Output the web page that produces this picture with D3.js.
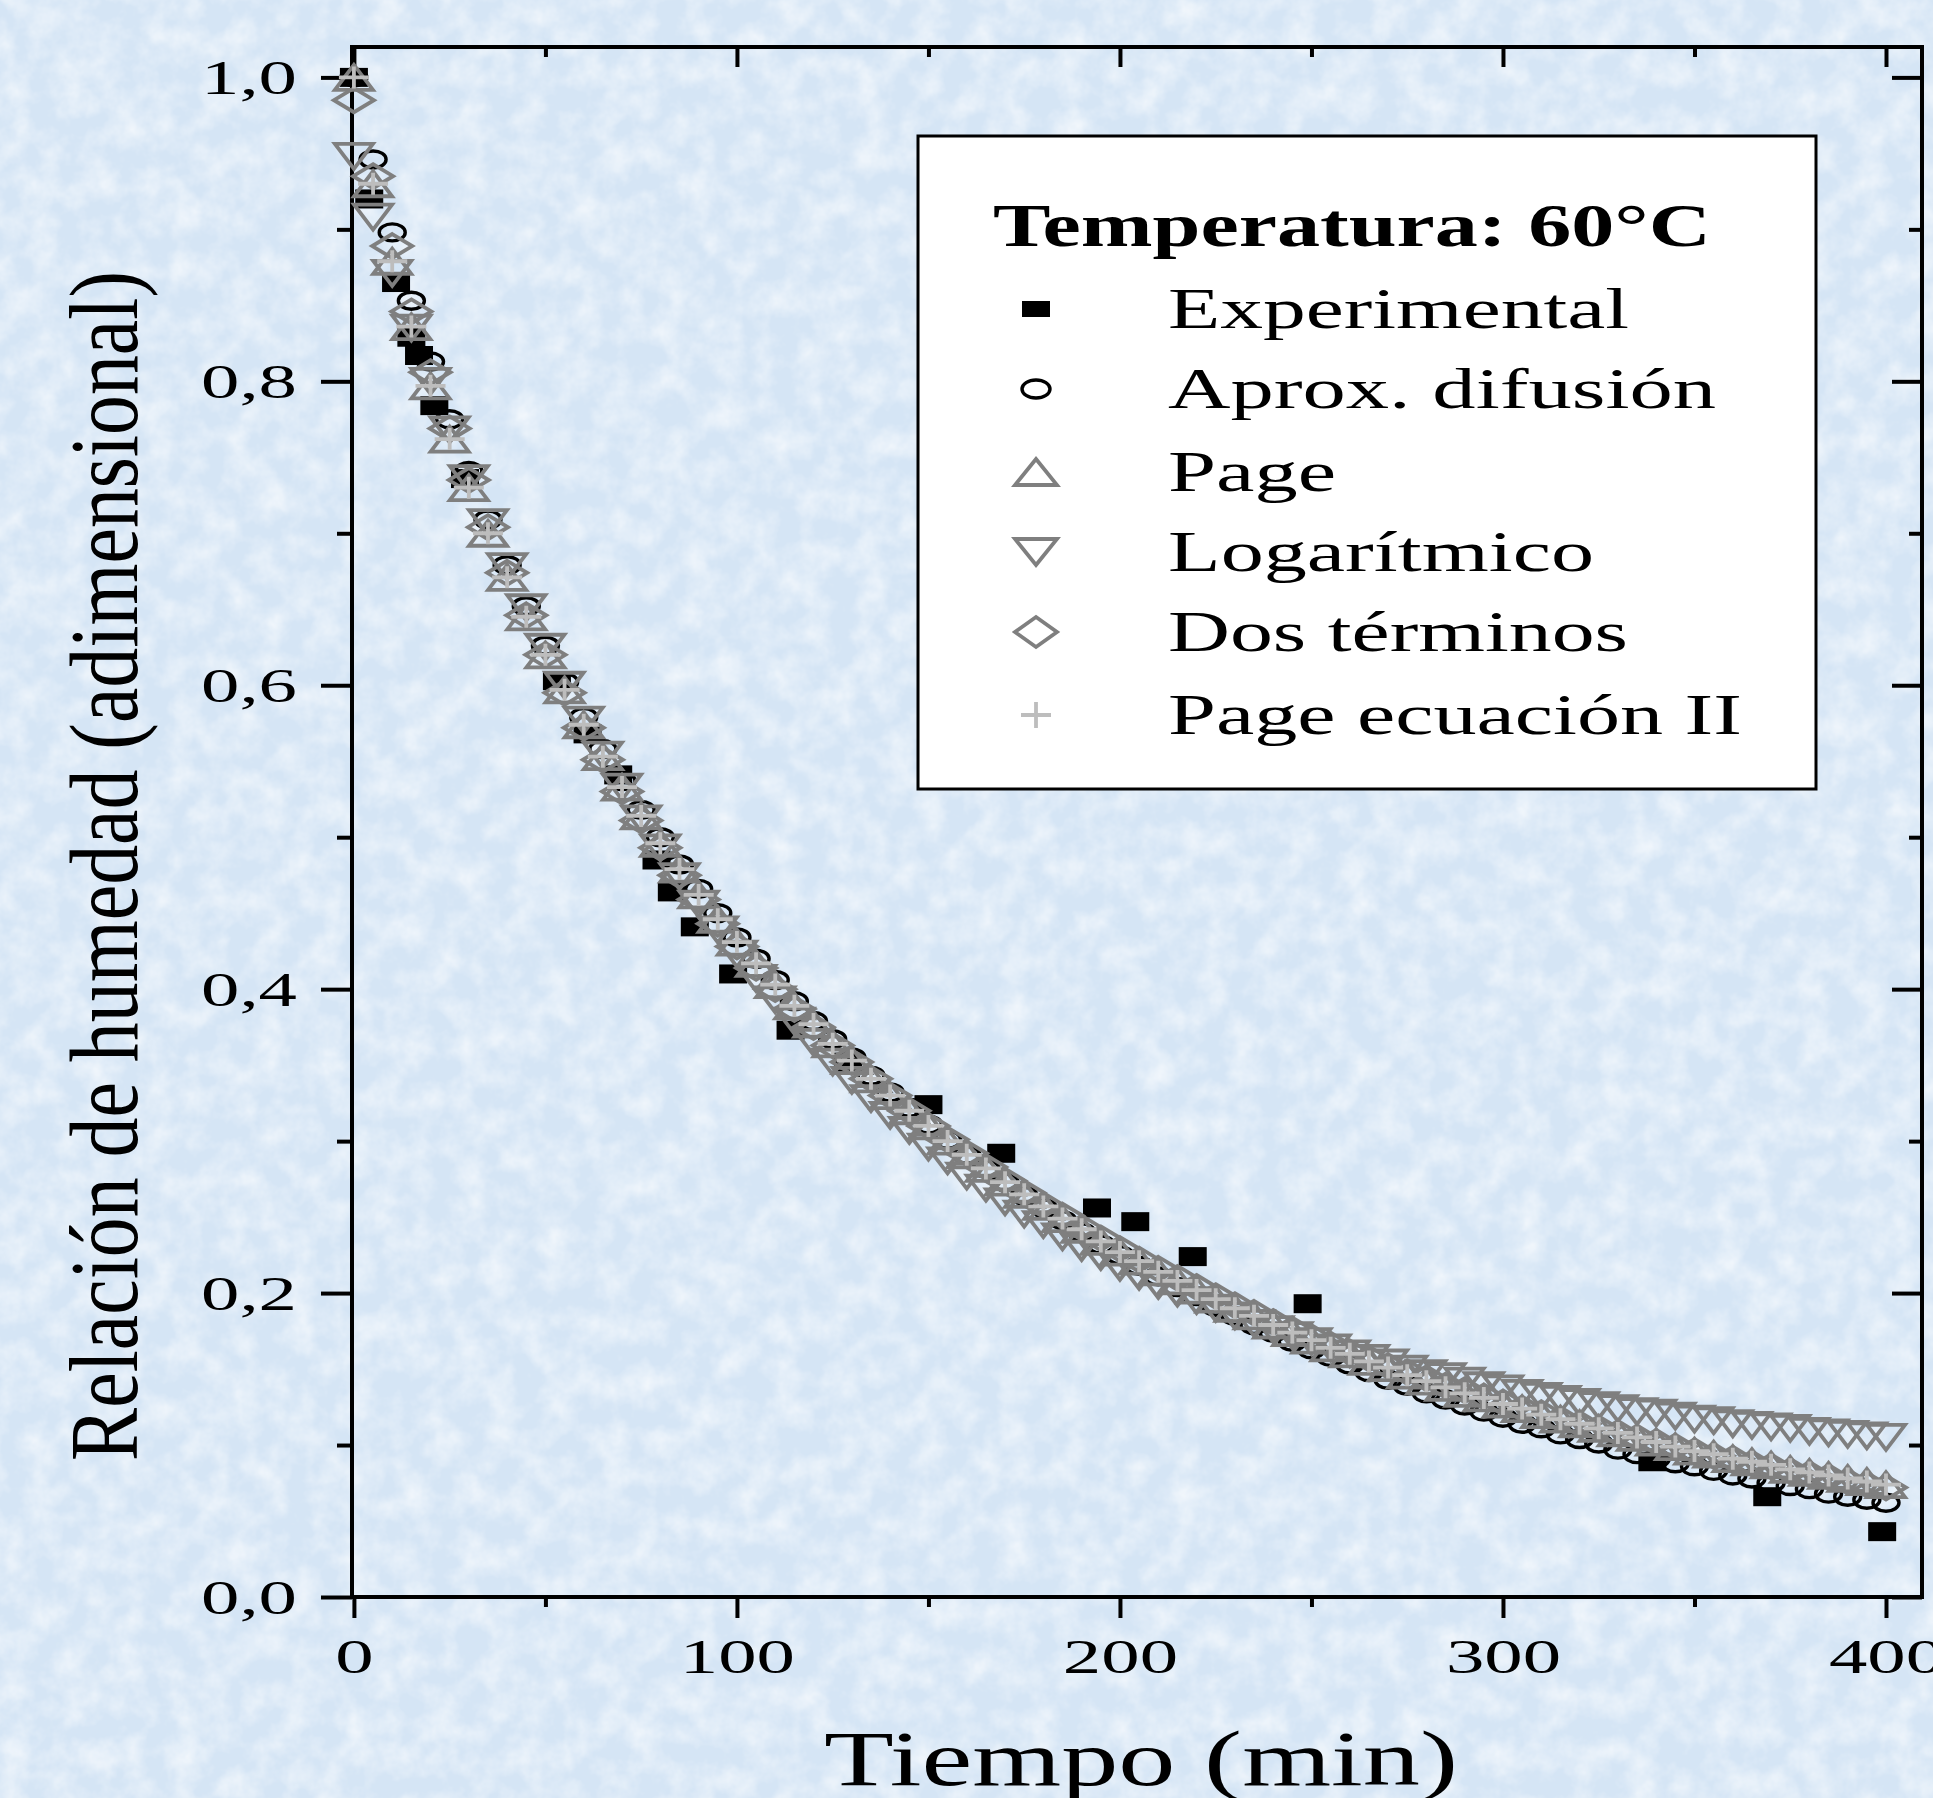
<!DOCTYPE html>
<html>
<head>
<meta charset="utf-8">
<script src="https://cdn.jsdelivr.net/npm/d3@7"></script>
<style>
  html, body { margin: 0; padding: 0; background: #d6e5f4; }
  svg { display: block; }
  text { font-family: "Liberation Serif", "Times New Roman", serif; fill: #000; }
</style>
</head>
<body>
<svg id="chart" width="1933" height="1798"></svg>
<script>
// ---- data ----
const seriesNames = ["Experimental", "Aprox. difusión", "Page", "Logarítmico", "Dos términos", "Page ecuación II"]
const legendTitle = "Temperatura: 60°C"
const xTitle = "Tiempo (min)"
const yTitle = "Relación de humedad (adimensional)"

const xMajorTicks = [0, 100, 200, 300, 400]
const xMinorTicks = [50, 150, 250, 350]
const yMajorTicks = [0, 0.2, 0.4, 0.6, 0.8, 1.0]
const yMinorTicks = [0.1, 0.3, 0.5, 0.7, 0.9]

// experimental points (min, MR)
const expTime  = [0, 4, 11, 15, 17, 21, 29, 53, 61, 69, 79, 83, 89, 99, 114, 129, 150, 169, 194, 204, 219, 249, 339, 369, 399]
const expValue = [1.0, 0.92, 0.865, 0.829, 0.817, 0.784, 0.736, 0.603, 0.568, 0.541, 0.485, 0.464, 0.441, 0.41, 0.373, 0.352, 0.324, 0.292, 0.256, 0.247, 0.224, 0.193, 0.089, 0.066, 0.043]

// model curves, one value every 5 min from 0 to 400
const modelTime = d3.range(0, 401, 5)

const aproxDifusion = [1.000,0.946,0.898,0.853,0.813,0.775,0.741,0.709,0.679,0.652,0.626,0.602,0.579,0.558,0.537,0.518,0.500,0.482,0.466,0.450,
  0.434,0.420,0.406,0.392,0.379,0.367,0.355,0.343,0.332,0.322,0.311,0.301,0.291,0.282,0.273,0.264,0.256,0.248,0.240,0.232,
  0.225,0.218,0.211,0.204,0.198,0.191,0.185,0.179,0.174,0.168,0.163,0.158,0.153,0.148,0.143,0.139,0.134,0.130,0.126,0.122,
  0.118,0.114,0.111,0.107,0.104,0.101,0.097,0.094,0.091,0.088,0.086,0.083,0.080,0.078,0.075,0.073,0.071,0.068,0.066,0.064,0.062]

const page = [1.000,0.930,0.879,0.836,0.797,0.762,0.730,0.700,0.671,0.645,0.620,0.597,0.574,0.553,0.533,0.514,0.496,0.479,0.462,0.446,
  0.431,0.417,0.403,0.389,0.377,0.364,0.353,0.341,0.330,0.320,0.310,0.300,0.291,0.282,0.273,0.265,0.257,0.249,0.242,0.234,
  0.227,0.221,0.214,0.208,0.202,0.196,0.190,0.185,0.179,0.174,0.169,0.164,0.160,0.155,0.151,0.146,0.142,0.138,0.134,0.131,
  0.127,0.124,0.120,0.117,0.114,0.111,0.108,0.105,0.102,0.099,0.096,0.094,0.091,0.089,0.087,0.084,0.082,0.080,0.078,0.076,0.074]

const logaritmico = [0.948,0.908,0.871,0.835,0.800,0.768,0.736,0.707,0.678,0.651,0.625,0.600,0.577,0.554,0.533,0.512,0.493,0.474,0.456,0.439,
  0.423,0.407,0.393,0.379,0.365,0.352,0.340,0.328,0.317,0.307,0.296,0.287,0.277,0.269,0.260,0.252,0.245,0.237,0.230,0.224,
  0.217,0.211,0.205,0.200,0.195,0.190,0.185,0.180,0.176,0.172,0.168,0.164,0.160,0.157,0.154,0.150,0.147,0.145,0.142,0.139,
  0.137,0.134,0.132,0.130,0.128,0.126,0.124,0.122,0.121,0.119,0.117,0.116,0.114,0.113,0.112,0.111,0.109,0.108,0.107,0.106,0.105]

const dosTerminos = [0.985,0.935,0.889,0.846,0.806,0.769,0.735,0.704,0.674,0.646,0.620,0.595,0.572,0.551,0.530,0.511,0.493,0.475,0.459,0.443,
  0.428,0.414,0.400,0.387,0.375,0.363,0.352,0.341,0.330,0.320,0.310,0.301,0.292,0.283,0.274,0.266,0.258,0.251,0.243,0.236,
  0.229,0.222,0.216,0.210,0.204,0.198,0.192,0.187,0.181,0.176,0.171,0.166,0.161,0.157,0.152,0.148,0.144,0.139,0.136,0.132,
  0.128,0.124,0.121,0.117,0.114,0.111,0.108,0.105,0.102,0.099,0.096,0.093,0.091,0.088,0.086,0.083,0.081,0.079,0.076,0.074,0.072]

const pageII = [1.000,0.930,0.879,0.836,0.797,0.762,0.730,0.700,0.671,0.645,0.620,0.597,0.574,0.553,0.533,0.514,0.496,0.479,0.462,0.446,
  0.431,0.417,0.403,0.389,0.377,0.364,0.353,0.341,0.330,0.320,0.310,0.300,0.291,0.282,0.273,0.265,0.257,0.249,0.242,0.234,
  0.227,0.221,0.214,0.208,0.202,0.196,0.190,0.185,0.179,0.174,0.169,0.164,0.160,0.155,0.151,0.146,0.142,0.138,0.134,0.131,
  0.127,0.124,0.120,0.117,0.114,0.111,0.108,0.105,0.102,0.099,0.096,0.094,0.091,0.089,0.087,0.084,0.082,0.080,0.078,0.076,0.074]

// ---- layout / styles ----
const svg = d3.select("#chart")
const W = 1933, H = 1798

const x = d3.scaleLinear().domain([-0.5, 409.4]).range([352, 1922])
const y = d3.scaleLinear().domain([0, 1.02]).range([1597, 47])

// marker look for each series (same order as seriesNames)
const markerStyle = [
  { shape: "square",  w: 28, h: 19, fill: "#000", stroke: "none",    sw: 0 },
  { shape: "circle",  w: 26, h: 17, fill: "none", stroke: "#000",    sw: 3.4 },
  { shape: "up",      w: 38, h: 25, fill: "none", stroke: "#7f7f7f", sw: 3.8 },
  { shape: "down",    w: 38, h: 25, fill: "none", stroke: "#7f7f7f", sw: 3.8 },
  { shape: "diamond", w: 40, h: 24, fill: "none", stroke: "#7f7f7f", sw: 3.8 },
  { shape: "plus",    w: 30, h: 22, fill: "none", stroke: "#bdbdbd", sw: 3.8 }
]
const legendMarker = [
  { w: 28, h: 16 }, { w: 28, h: 18 }, { w: 42, h: 26 }, { w: 42, h: 26 }, { w: 42, h: 30 }, { w: 30, h: 26 }
]

function markerPath(shape, w, h) {
  const a = w / 2, b = h / 2
  if (shape === "square") return `M${-a},${-b}H${a}V${b}H${-a}Z`
  if (shape === "circle") return `M${-a},0A${a},${b} 0 1,0 ${a},0A${a},${b} 0 1,0 ${-a},0Z`
  if (shape === "up") return `M0,${-b}L${a},${b}L${-a},${b}Z`
  if (shape === "down") return `M0,${b}L${a},${-b}L${-a},${-b}Z`
  if (shape === "diamond") return `M0,${-b}L${a},0L0,${b}L${-a},0Z`
  return `M${-a},0H${a}M0,${-b}V${b}`
}

// ---- textured light-blue background ----
const defs = svg.append("defs")
const f = defs.append("filter").attr("id", "paper")
  .attr("x", 0).attr("y", 0).attr("width", "100%").attr("height", "100%")
f.append("feTurbulence").attr("type", "fractalNoise").attr("baseFrequency", "0.035")
  .attr("numOctaves", 4).attr("seed", 7).attr("result", "n")
f.append("feColorMatrix").attr("type", "matrix")
  .attr("values", "0 0 0 0 1  0 0 0 0 1  0 0 0 0 1  0 0 0 1.1 -0.38")

svg.append("rect").attr("width", W).attr("height", H).attr("fill", "#d5e5f5")
svg.append("rect").attr("width", W).attr("height", H).attr("filter", "url(#paper)")

// ---- axes ----
const yFmt = d => d.toFixed(1).replace(".", ",")
const sx = 1.6  // the figure's text is stretched horizontally

function styleAxis(g) {
  g.select(".domain").remove()
  g.selectAll(".tick line").attr("stroke", "#000").attr("stroke-width", 4)
}

svg.append("g").attr("transform", `translate(0,${y(0)})`)
  .call(d3.axisBottom(x).tickValues(xMinorTicks).tickSize(10).tickFormat(""))
  .call(styleAxis)
const xb = svg.append("g").attr("transform", `translate(0,${y(0)})`)
  .call(d3.axisBottom(x).tickValues(xMajorTicks).tickSize(21).tickFormat(d3.format("d")))
  .call(styleAxis)
xb.selectAll(".tick text")
  .attr("y", 76).attr("dy", 0)
  .attr("font-size", 48).attr("font-family", "Liberation Serif")
  .attr("transform", `scale(${sx},1)`)

svg.append("g").attr("transform", `translate(0,${y(1.02)})`)
  .call(d3.axisTop(x).tickValues(xMinorTicks).tickSize(-10).tickFormat(""))
  .call(styleAxis)
svg.append("g").attr("transform", `translate(0,${y(1.02)})`)
  .call(d3.axisTop(x).tickValues(xMajorTicks).tickSize(-20).tickFormat(""))
  .call(styleAxis)

svg.append("g").attr("transform", `translate(${x(-0.5)},0)`)
  .call(d3.axisLeft(y).tickValues(yMinorTicks).tickSize(15).tickFormat(""))
  .call(styleAxis)
const yl = svg.append("g").attr("transform", `translate(${x(-0.5)},0)`)
  .call(d3.axisLeft(y).tickValues(yMajorTicks).tickSize(31).tickFormat(yFmt))
  .call(styleAxis)
yl.selectAll(".tick text")
  .attr("x", -55 / sx).attr("dy", "0.34em")
  .attr("font-size", 48).attr("font-family", "Liberation Serif")
  .attr("transform", `scale(${sx},1)`)

svg.append("g").attr("transform", `translate(${x(409.4)},0)`)
  .call(d3.axisRight(y).tickValues(yMinorTicks).tickSize(-13).tickFormat(""))
  .call(styleAxis)
svg.append("g").attr("transform", `translate(${x(409.4)},0)`)
  .call(d3.axisRight(y).tickValues(yMajorTicks).tickSize(-30).tickFormat(""))
  .call(styleAxis)

// frame
svg.append("rect")
  .attr("x", x(-0.5)).attr("y", y(1.02))
  .attr("width", x(409.4) - x(-0.5)).attr("height", y(0) - y(1.02))
  .attr("fill", "none").attr("stroke", "#000").attr("stroke-width", 4)

// axis titles
svg.append("text")
  .attr("x", 824).attr("y", 1785)
  .attr("font-size", 79)
  .attr("textLength", 634).attr("lengthAdjust", "spacingAndGlyphs")
  .text(xTitle)

svg.append("text")
  .attr("transform", "translate(137,866) rotate(-90)")
  .attr("text-anchor", "middle")
  .attr("font-size", 98)
  .attr("textLength", 1190).attr("lengthAdjust", "spacingAndGlyphs")
  .text(yTitle)

// ---- markers ----
const seriesData = [
  expTime.map((t, i) => [t, expValue[i]]),
  modelTime.map((t, i) => [t, aproxDifusion[i]]),
  modelTime.map((t, i) => [t, page[i]]),
  modelTime.map((t, i) => [t, logaritmico[i]]),
  modelTime.map((t, i) => [t, dosTerminos[i]]),
  modelTime.map((t, i) => [t, pageII[i]])
]

seriesData.forEach((pts, s) => {
  const st = markerStyle[s]
  svg.append("g")
    .attr("class", "series-" + s)
    .selectAll("path")
    .data(pts)
    .join("path")
    .attr("transform", d => `translate(${x(d[0])},${y(d[1])})`)
    .attr("d", markerPath(st.shape, st.w, st.h))
    .attr("fill", st.fill)
    .attr("stroke", st.stroke)
    .attr("stroke-width", st.sw)
    .attr("stroke-linejoin", "miter")
})

// ---- legend ----
const lg = svg.append("g")
lg.append("rect")
  .attr("x", 918).attr("y", 136).attr("width", 898).attr("height", 653)
  .attr("fill", "#fff").attr("stroke", "#000").attr("stroke-width", 3)

lg.append("text")
  .attr("x", 993).attr("y", 246)
  .attr("font-size", 62).attr("font-weight", "bold")
  .attr("textLength", 718).attr("lengthAdjust", "spacingAndGlyphs")
  .text(legendTitle)

const legendBase = [328, 408, 491, 571, 651, 734]
const legendLen = [461, 548, 168, 426, 460, 574]

seriesNames.forEach((name, i) => {
  const st = markerStyle[i]
  lg.append("path")
    .attr("transform", `translate(1036,${legendBase[i] - 19})`)
    .attr("d", markerPath(st.shape, legendMarker[i].w, legendMarker[i].h))
    .attr("fill", st.fill)
    .attr("stroke", st.stroke)
    .attr("stroke-width", st.sw)
  lg.append("text")
    .attr("x", 1168).attr("y", legendBase[i])
    .attr("font-size", 56)
    .attr("textLength", legendLen[i]).attr("lengthAdjust", "spacingAndGlyphs")
    .text(name)
})
</script>
</body>
</html>
